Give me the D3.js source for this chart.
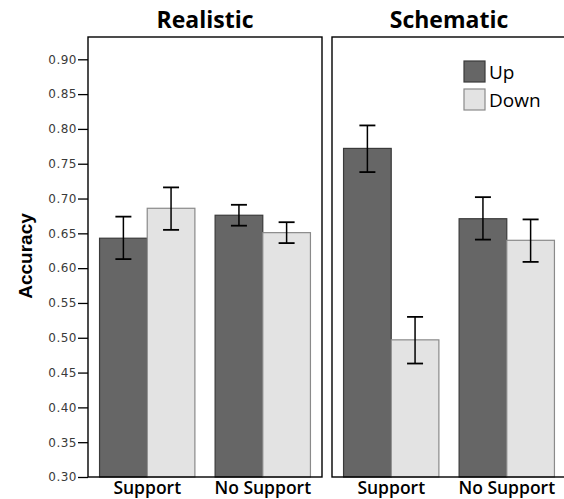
<!DOCTYPE html>
<html><head><meta charset="utf-8">
<script src="https://cdn.jsdelivr.net/npm/d3@7"></script>
<style>body{margin:0;background:#fff}</style>
</head><body>
<svg id="c" width="564" height="499"></svg>
<script>
const panels = ["Realistic", "Schematic"];
const categories = ["Support", "No Support"];
const series = ["Up", "Down"];
// mean values [panel][category][series]
const means = [
  [[0.643, 0.686], [0.676, 0.651]],
  [[0.772, 0.497], [0.671, 0.640]]
];
const errLow = [
  [[0.613, 0.655], [0.661, 0.636]],
  [[0.738, 0.463], [0.641, 0.609]]
];
const errHigh = [
  [[0.674, 0.716], [0.691, 0.666]],
  [[0.805, 0.530], [0.702, 0.670]]
];
const yTicks = [0.30,0.35,0.40,0.45,0.50,0.55,0.60,0.65,0.70,0.75,0.80,0.85,0.90];
const colors = {Up: "#666666", Down: "#e3e3e3"};
const strokes = {Up: "#3a3a3a", Down: "#8a8a8a"};

const svg = d3.select("#c");
const plotTop = 37, plotBottom = 477;
const panelX = [88, 332], panelW = 234;
const y = d3.scaleLinear().domain([0.30, 0.90]).range([plotBottom, 59.3]);

// y axis
const yAxis = d3.axisLeft(y).tickValues(yTicks).tickFormat(d3.format(".2f")).tickSize(10).tickPadding(1);
const ga = svg.append("g").attr("transform", `translate(${panelX[0]},0)`).call(yAxis);
ga.select(".domain").remove();
ga.selectAll(".tick line").attr("stroke", "#000").attr("stroke-width", 1.3);
ga.selectAll(".tick text").attr("font-family", "DejaVu Sans, sans-serif").attr("font-size", 12)
  .attr("letter-spacing", 0.5).attr("fill", "#3a3a3a");

svg.append("text").attr("transform", "translate(32,256) rotate(-90)")
  .attr("text-anchor", "middle").attr("font-family", "Liberation Sans, Arial, sans-serif")
  .attr("font-weight", "bold").attr("font-size", 19).text("Accuracy");

panels.forEach((p, pi) => {
  const x0 = panelX[pi];
  const g = svg.append("g").attr("transform", `translate(${x0},0)`);
  const x = d3.scaleBand().domain(categories).range([0, panelW]).paddingInner(0.175).paddingOuter(0.1);
  const xs = d3.scaleBand().domain(series).range([0, x.bandwidth()]);
  categories.forEach((c, ci) => {
    series.forEach((s, si) => {
      const bx = x(c) + xs(s);
      const v = means[pi][ci][si];
      g.append("rect").attr("x", bx).attr("y", y(v)).attr("width", xs.bandwidth())
        .attr("height", plotBottom - y(v)).attr("fill", colors[s]).attr("stroke", strokes[s]).attr("stroke-width", 1.2);
    });
  });
  // error bars
  categories.forEach((c, ci) => {
    series.forEach((s, si) => {
      const cx = x(c) + xs(s) + xs.bandwidth() / 2;
      const lo = y(errLow[pi][ci][si]), hi = y(errHigh[pi][ci][si]);
      g.append("line").attr("x1", cx).attr("x2", cx).attr("y1", lo).attr("y2", hi).attr("stroke", "#000").attr("stroke-width", 1.5);
      [lo, hi].forEach(yy => g.append("line").attr("x1", cx - 8).attr("x2", cx + 8).attr("y1", yy).attr("y2", yy).attr("stroke", "#000").attr("stroke-width", 1.8));
    });
  });
  // frame
  g.append("rect").attr("x", 0).attr("y", plotTop).attr("width", panelW).attr("height", plotBottom - plotTop)
    .attr("fill", "none").attr("stroke", "#000").attr("stroke-width", 1.4);
  // title
  g.append("text").attr("x", panelW / 2).attr("y", 28).attr("text-anchor", "middle")
    .attr("font-family", "Open Sans, sans-serif").attr("font-weight", "bold").attr("font-size", 23).text(p);
  // x labels
  categories.forEach(c => {
    g.append("text").attr("x", x(c) + x.bandwidth() / 2).attr("y", 494).attr("text-anchor", "middle")
      .attr("font-family", "Open Sans, sans-serif").attr("font-weight", 600).attr("font-size", 17.5).text(c);
  });
});

// legend
const lg = svg.append("g").attr("transform", "translate(464,61)");
series.forEach((s, i) => {
  lg.append("rect").attr("x", 0).attr("y", i * 28).attr("width", 21).attr("height", 21)
    .attr("fill", colors[s]).attr("stroke", strokes[s]).attr("stroke-width", 1.2);
  lg.append("text").attr("x", 25).attr("y", i * 28 + 18).attr("font-family", "Open Sans, sans-serif")
    .attr("font-size", 19).text(s);
});
</script>
</body></html>
